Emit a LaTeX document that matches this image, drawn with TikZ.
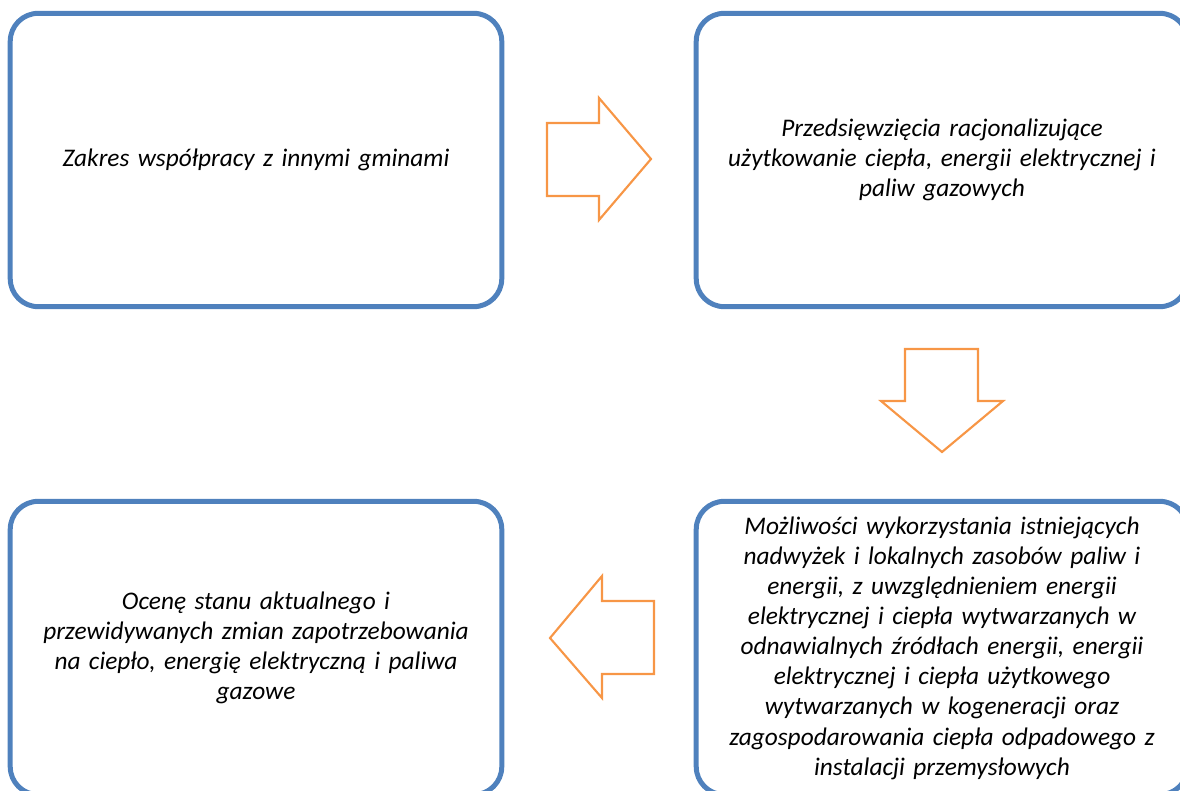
\documentclass[tikz,border=0pt]{standalone}
\usepackage{fontspec}
\setmainfont{Carlito}
\definecolor{boxblue}{RGB}{79,129,189}
\definecolor{arroworange}{RGB}{247,150,70}

\begin{document}
\begin{tikzpicture}[x=0.75pt, y=-0.75pt,
box/.style={draw=boxblue, line width=3.75pt, rounded corners=21pt,
minimum width=366pt, minimum height=220pt, text width=362pt, align=center,
font=\fontsize{19}{22.6}\selectfont\itshape},
barrow/.style={draw=arroworange, line width=1.6pt, line join=miter}
]
\useasboundingbox (0,0) rectangle (1180,791);

\node[box] (scope) at (256,160) {Zakres współpracy z innymi gminami};
\node[box] (save) at (942,160)
{Przedsięwzięcia racjonalizujące\\
użytkowanie ciepła, energii elektrycznej i\\
paliw gazowych};
\node[box] (local) at (942,648)
{Możliwości wykorzystania istniejących\\
nadwyżek i lokalnych zasobów paliw i\\
energii, z uwzględnieniem energii\\
elektrycznej i ciepła wytwarzanych w\\
odnawialnych źródłach energii, energii\\
elektrycznej i ciepła użytkowego\\
wytwarzanych w kogeneracji oraz\\
zagospodarowania ciepła odpadowego z\\
instalacji przemysłowych};
\node[box] (state) at (256,648)
{Ocenę stanu aktualnego i\\
przewidywanych zmian zapotrzebowania\\
na ciepło, energię elektryczną i paliwa\\
gazowe};

% block arrows between the boxes
\draw[barrow] (547,123) -- (599,123) -- (599,98) -- (651,159)
-- (599,220) -- (599,196) -- (547,196) -- cycle;
\draw[barrow] (905,349) -- (978,349) -- (978,401) -- (1003,401)
-- (942,452) -- (881,401) -- (905,401) -- cycle;
\draw[barrow] (654,601) -- (602,601) -- (602,576) -- (550,638)
-- (602,698) -- (602,674) -- (654,674) -- cycle;

\end{tikzpicture}
\end{document}
